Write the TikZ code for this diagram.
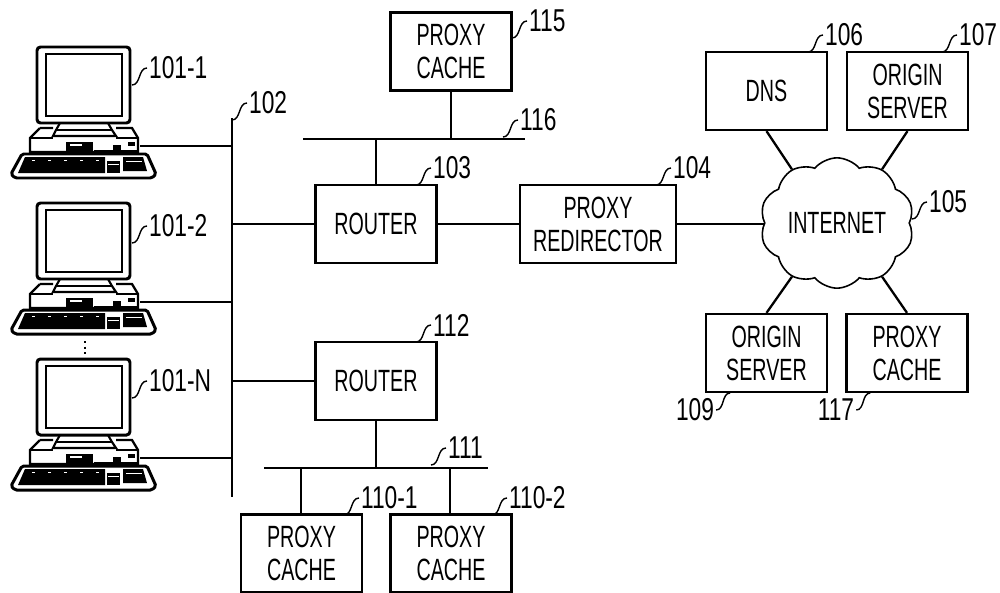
\documentclass[tikz,border=0pt]{standalone}
\usepackage{fontspec}
\setmainfont[FakeStretch=0.64]{Liberation Sans}
\newfontfamily\numfont[FakeStretch=0.72]{Liberation Sans}
\usetikzlibrary{shapes.symbols}
\tikzset{
  box/.style={draw, line width=1.3pt, fill=white, minimum width=2.42cm, minimum height=1.56cm, inner sep=0pt, align=center, font=\fontsize{17.5}{18.8}\selectfont},
  wire/.style={line width=1.3pt},
  lead/.style={line width=0.8pt},
  num/.style={inner sep=1pt, font=\numfont\fontsize{18}{18}\selectfont},
  computer/.pic={
    % monitor
    \draw[line width=1.7pt, rounded corners=2pt] (37,47) rectangle (130,123);
    \draw[line width=1.3pt] (46,54) rectangle (122,116);
    \draw[line width=1.2pt] (60,123) -- (56,130) -- (53,136) -- (116,136) -- (112,130) -- (108,123);
    \draw[line width=1.2pt] (56,130) -- (112,130);
    % case
    \draw[line width=1.3pt] (40,128) -- (53,128) (116,128) -- (132,128) -- (138,138) -- (138,152) -- (30,152) -- (30,138) -- (40,128);
    \draw[line width=1.3pt] (30,138) -- (53,138) (116,138) -- (138,138);
    \fill (66,142) rectangle (93,152);
    \fill[white] (70,144) rectangle (82,146);
    \fill (94,150) rectangle (138,153);
    \fill (113,145) rectangle (121,152);
    \fill (128,142) rectangle (135,146);
    % keyboard
    \draw[line width=1.7pt, rounded corners=1pt] (22,154) -- (147,154) -- (156,174) -- (152,178) -- (15,178) -- (11,174) -- cycle;
    \fill (25,157) -- (105,157) -- (105,173) -- (18,173) -- cycle;
    \fill (107,161) rectangle (120,173);
    \fill[white] (108,164) rectangle (119,165);
    \fill (123,157) -- (143,157) -- (147,171) -- (123,171) -- cycle;
    \fill[white] (126,161) rectangle (142,162);
    \foreach \i in {0,...,4} {\fill[white] (32+16*\i,160) rectangle +(3,1);}
    \coordinate (-port) at (140,146);
  }
}
\begin{document}
\begin{tikzpicture}[x=0.02cm, y=-0.02cm]
  \useasboundingbox (0,0) rectangle (1000,592);
  \coordinate (bustop) at (232,118);
  \coordinate (busend) at (232,497);
  \draw[wire] (bustop) -- (busend);
  % computers
  \pic (c1) at (0,0) {computer};
  \pic (c2) at (0,156) {computer};
  \pic (c3) at (0,312) {computer};
  \foreach \c in {c1,c2,c3} {\draw[wire] (\c-port) -- (\c-port -| bustop);}
  \coordinate (dottop) at (85,341);
  \coordinate (dotend) at (85,358);
  \draw[line width=1.2pt, dotted] (dottop) -- (dotend);
  % boxes
  \node[box] (r103) at (376,224) {ROUTER};
  \node[box] (r112) at (376,381) {ROUTER};
  \node[box] (p115) at (451,51.5) {PROXY\\CACHE};
  \node[box, minimum width=3.12cm] (p104) at (598,224) {PROXY\\REDIRECTOR};
  \node[box] (d106) at (766.5,91) {DNS};
  \node[box] (o107) at (907.5,91) {ORIGIN\\SERVER};
  \node[box] (o109) at (766.5,353) {ORIGIN\\SERVER};
  \node[box] (p117) at (907,353) {PROXY\\CACHE};
  \node[box] (p1101) at (301.5,553.5) {PROXY\\CACHE};
  \node[box] (p1102) at (451,553.5) {PROXY\\CACHE};
  \node[draw, cloud, cloud puffs=10, cloud puff arc=100, aspect=1.2, line width=0.9pt, fill=white, minimum width=3.08cm, minimum height=2.55cm, inner sep=0pt, font=\fontsize{17.5}{18.8}\selectfont] (inet) at (837,223) {INTERNET};
  % the two short buses
  \coordinate (l116a) at (303,139);
  \coordinate (l116b) at (525,139);
  \coordinate (l111a) at (264,468);
  \coordinate (l111b) at (488,468);
  \draw[wire] (l116a) -- (l116b);
  \draw[wire] (l111a) -- (l111b);
  % connections
  \draw[wire] (p115.south) -- (p115.south |- l116a);
  \draw[wire] (r103.north) -- (r103.north |- l116a);
  \draw[wire] (r103.west) -- (r103.west -| bustop);
  \draw[wire] (r103.east) -- (p104.west);
  \draw[wire] (p104.east) -- (p104.east -| inet.west);
  \draw[wire] (r112.west) -- (r112.west -| bustop);
  \draw[wire] (r112.south) -- (r112.south |- l111a);
  \coordinate (j1101) at (301,468);
  \coordinate (j1102) at (450,468);
  \draw[wire] (j1101) -- (j1101 |- p1101.north);
  \draw[wire] (j1102) -- (j1102 |- p1102.north);
  \draw[wire] (d106.south) -- (inet.130);
  \draw[wire] (o107.south) -- (inet.50);
  \draw[wire] (o109.north) -- (inet.230);
  \draw[wire] (p117.north) -- (inet.310);
  % numerals
  \foreach \n/\t/\x/\y in {a/101-1/147/68, b/101-2/147/226, c/101-N/147/381, d/102/247/103, e/115/527/21, f/116/518/120, g/103/431/168, h/104/671/168, i/106/823/35, j/107/957/35, k/105/927/202, l/112/431/325, m/111/446/448, n/110-1/359/498, o/110-2/507/498} {
    \node[num, anchor=west] (n\n) at (\x,\y) {\t};
    \draw[lead] (n\n.west) to[out=180, in=0] ++(-15,17);
  }
  \foreach \n/\t/\x/\y in {p/109/695/410, q/117/836/410} {
    \node[num] (n\n) at (\x,\y) {\t};
    \draw[lead] (n\n.east) to[out=0, in=180] ++(14,-17);
  }
\end{tikzpicture}
\end{document}
